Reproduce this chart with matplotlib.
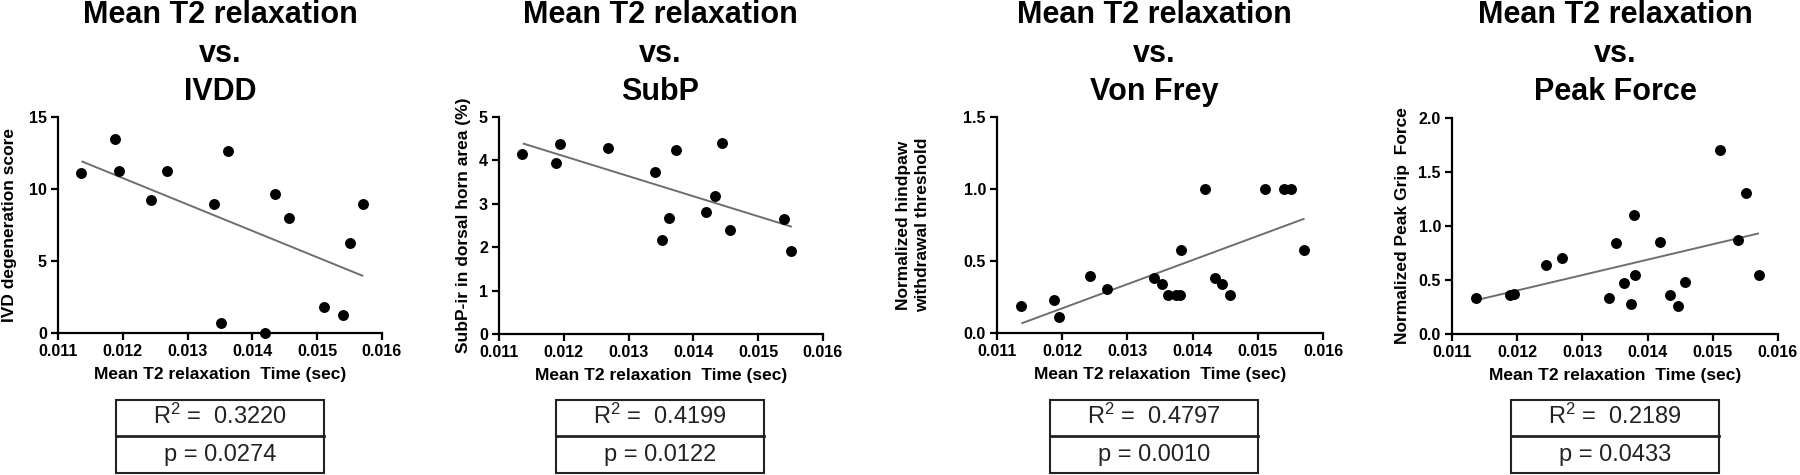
import matplotlib

matplotlib.use("Agg")
import matplotlib.pyplot as plt
from matplotlib.patches import Rectangle

plt.rcParams["font.family"] = ["Liberation Sans", "DejaVu Sans"]
plt.rcParams["mathtext.fontset"] = "custom"
plt.rcParams["mathtext.rm"] = "Liberation Sans"
plt.rcParams["mathtext.it"] = "Liberation Sans"
plt.rcParams["mathtext.default"] = "regular"

# ---- data ----
ivdd_x = [0.01136, 0.011874, 0.011941, 0.012435, 0.012682, 0.013407, 0.013629, 0.01351,
          0.01419, 0.014344, 0.014565, 0.0151, 0.015398, 0.015501, 0.015707]
ivdd_y = [11.13, 13.47, 11.25, 9.26, 11.25, 8.98, 12.64, 0.67,
          0.0, 9.63, 7.96, 1.78, 1.27, 6.23, 8.98]
ivdd_fit_x = [0.011376, 0.015697]
ivdd_fit_y = [11.90, 3.98]

subp_x = [0.01136, 0.011874, 0.011947, 0.012682, 0.013407, 0.013737, 0.013623,
          0.01351, 0.014189, 0.014333, 0.014447, 0.01456, 0.015393, 0.015506]
subp_y = [4.14, 3.94, 4.38, 4.28, 3.74, 4.24, 2.68,
          2.16, 2.82, 3.19, 4.41, 2.40, 2.64, 1.92]
subp_fit_x = [0.011381, 0.015506]
subp_fit_y = [4.385, 2.477]

vonfrey_x = [0.011374, 0.011876, 0.011953, 0.012434, 0.01268, 0.013408, 0.013526, 0.013628,
             0.013746, 0.013807, 0.013818, 0.014192, 0.014345, 0.014458, 0.014566,
             0.015109, 0.015395, 0.015508, 0.015703]
vonfrey_y = [0.19, 0.227, 0.111, 0.398, 0.303, 0.382, 0.34, 0.264,
             0.264, 0.264, 0.574, 1.0, 0.38, 0.34, 0.264,
             1.0, 1.0, 1.0, 0.574]
vonfrey_fit_x = [0.011389, 0.015703]
vonfrey_fit_y = [0.069, 0.792]

grip_x = [0.011373, 0.011885, 0.011956, 0.012447, 0.012687, 0.013408, 0.01352, 0.013638,
          0.013751, 0.013791, 0.013812, 0.014195, 0.014349, 0.014461, 0.014574,
          0.015105, 0.015392, 0.015509, 0.015709]
grip_y = [0.337, 0.365, 0.368, 0.637, 0.702, 0.334, 0.841, 0.476,
          0.281, 1.10, 0.55, 0.853, 0.365, 0.263, 0.479,
          1.70, 0.866, 1.31, 0.55]
grip_fit_x = [0.011383, 0.015693]
grip_fit_y = [0.315, 0.930]

titles = ["IVDD", "SubP", "Von Frey", "Peak Force"]
ylabels = [
    "IVD degeneration score",
    "SubP-ir in dorsal horn area (%)",
    "Normalized hindpaw\nwithdrawal threshold",
    "Normalized Peak Grip  Force",
]
ylims = [15, 5, 1.5, 2.0]
yticks = [[0, 5, 10, 15], [0, 1, 2, 3, 4, 5], [0.0, 0.5, 1.0, 1.5], [0.0, 0.5, 1.0, 1.5, 2.0]]
ytick_fmt = ["{:.0f}", "{:.0f}", "{:.1f}", "{:.1f}"]
xticks = [0.011, 0.012, 0.013, 0.014, 0.015, 0.016]
r_squared = ["0.3220", "0.4199", "0.4797", "0.2189"]
p_values = ["0.0274", "0.0122", "0.0010", "0.0433"]

panels = [
    (ivdd_x, ivdd_y, ivdd_fit_x, ivdd_fit_y),
    (subp_x, subp_y, subp_fit_x, subp_fit_y),
    (vonfrey_x, vonfrey_y, vonfrey_fit_x, vonfrey_fit_y),
    (grip_x, grip_y, grip_fit_x, grip_fit_y),
]

# layout in pixels (figure is 1800 x 475)
W, H = 1800, 475
axes_px = [(58, 382, 117, 333), (499, 823, 117, 334), (997, 1323, 117, 333), (1452, 1778, 118, 334)]
center_px = [220, 660, 1154, 1615]
ylabel_x_px = [10, 463, 913, 1402]
box_w, box_top, box_mid, box_bot = 208, 400, 436, 473

fig = plt.figure(figsize=(18, 4.75), dpi=100)

for i, (xs, ys, fx, fy) in enumerate(panels):
    left, right, top, bottom = axes_px[i]
    ax = fig.add_axes([left / W, 1 - bottom / H, (right - left) / W, (bottom - top) / H])
    ax.scatter(xs, ys, s=62, color="black", zorder=3, linewidths=0, clip_on=False)
    ax.plot(fx, fy, color="#6e6e6e", linewidth=1.4, zorder=2)
    ax.set_xlim(0.011, 0.016)
    ax.set_ylim(0, ylims[i])
    ax.set_xticks(xticks)
    ax.set_xticklabels([f"{t:.3f}" for t in xticks])
    ax.set_yticks(yticks[i])
    ax.set_yticklabels([ytick_fmt[i].format(t) for t in yticks[i]])
    for side in ("top", "right"):
        ax.spines[side].set_visible(False)
    for side in ("left", "bottom"):
        ax.spines[side].set_linewidth(1.6)
    ax.tick_params(direction="out", length=5, width=1.6, labelsize=11.5, pad=3)
    for lab in ax.get_xticklabels() + ax.get_yticklabels():
        lab.set_fontweight("bold")
    ax.set_xlabel("Mean T2 relaxation  Time (sec)", fontsize=12.5, fontweight="bold", labelpad=6)

    fig.text(ylabel_x_px[i] / W, 1 - (top + bottom) / 2 / H, ylabels[i], rotation=90,
             ha="center", va="center", fontsize=12.5, fontweight="bold", linespacing=1.3)

    cx = center_px[i] / W
    for line, base in zip(["Mean T2 relaxation", "vs.", titles[i]], [23, 62, 100]):
        fig.text(cx, 1 - base / H, line, ha="center", va="baseline", fontsize=22, fontweight="bold")

    # statistics box
    bx = center_px[i] - box_w / 2
    fig.add_artist(Rectangle((bx / W, 1 - box_bot / H), box_w / W, (box_bot - box_top) / H,
                             transform=fig.transFigure, fill=False, edgecolor="#222222", linewidth=1.5))
    fig.add_artist(plt.Line2D([bx / W, (bx + box_w) / W], [1 - box_mid / H] * 2,
                              transform=fig.transFigure, color="#222222", linewidth=2))
    fig.text(cx, 1 - (box_top + box_mid) / 2 / H + 0.004, f"R$^2$ =  {r_squared[i]}", ha="center",
             va="center", fontsize=17, color="#222222")
    fig.text(cx, 1 - (box_mid + box_bot) / 2 / H, f"p = {p_values[i]}", ha="center", va="center",
             fontsize=17, color="#222222")

fig.savefig("out.png", dpi=100)
